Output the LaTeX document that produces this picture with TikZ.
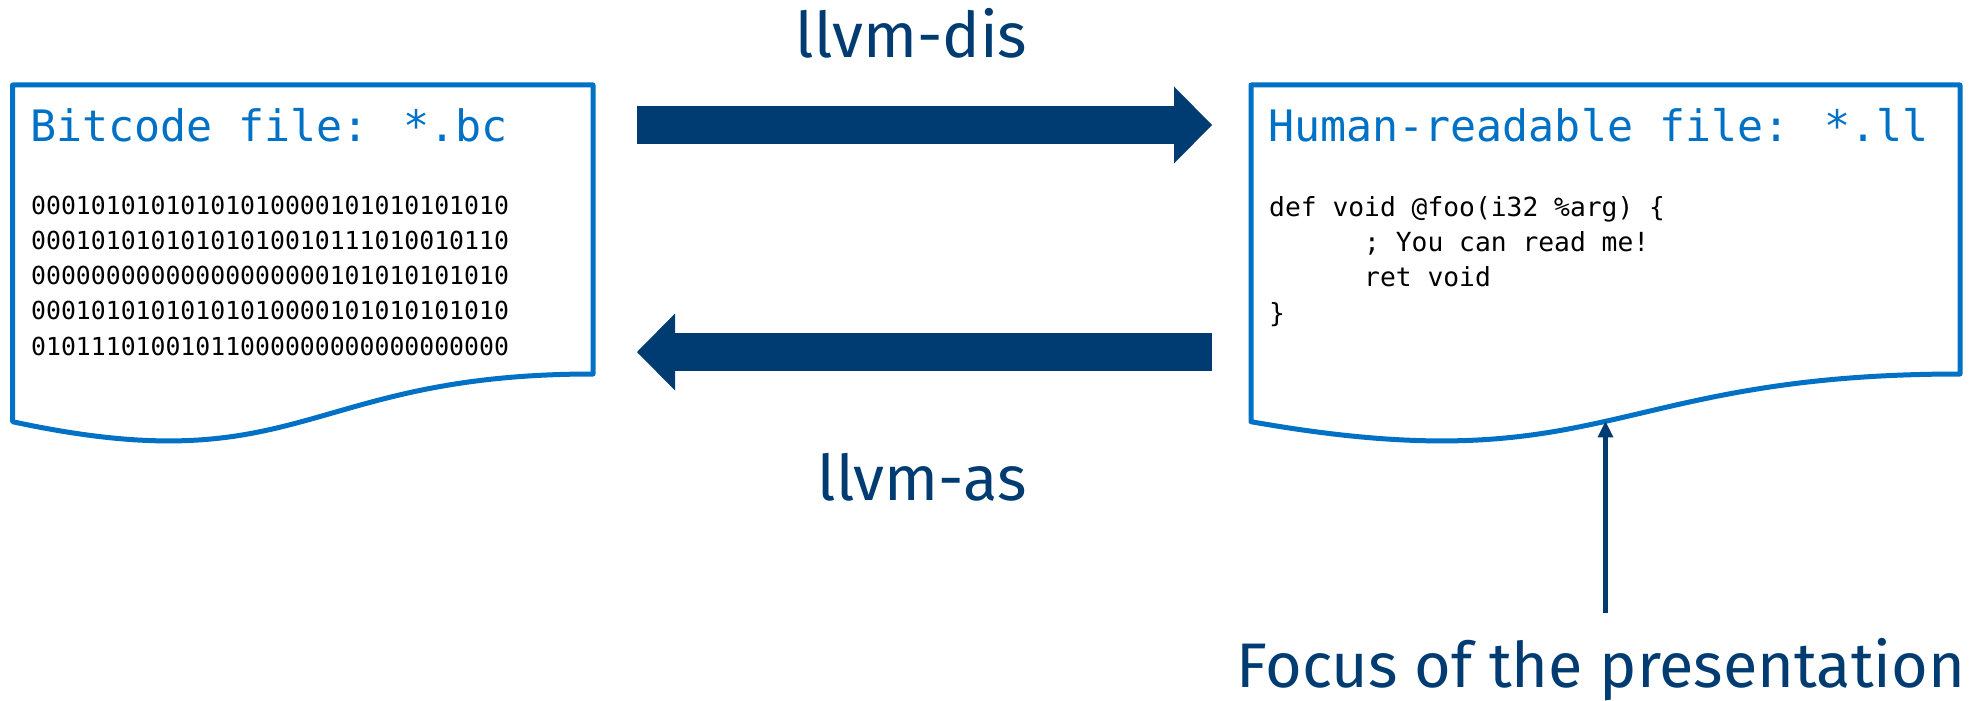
\documentclass[tikz,border=0pt]{standalone}
\usepackage{fontspec}
\setmainfont{Fira Sans}
\newfontfamily\codefont{DejaVu Sans Mono}
\usetikzlibrary{arrows.meta}
\definecolor{docblue}{HTML}{0071C5}
\definecolor{toolnavy}{HTML}{003C71}
\tikzset{
  docframe/.style={draw=docblue, line width=5pt, line join=round},
  doctitle/.style={anchor=base west, inner sep=0pt, text=docblue,
    font=\codefont\fontsize{43.3}{50}\selectfont},
  % multi-line nodes: the base anchor sits on the last line
  doclines/.style={anchor=base west, inner sep=0pt, align=left,
    font=\codefont\fontsize{24.8}{35.25}\selectfont},
  toolarrow/.style={draw=toolnavy, line width=38pt,
    -{Triangle[length=38pt,width=77pt,line width=0pt]}},
  toollabel/.style={anchor=base, inner sep=0pt, text=toolnavy,
    font=\fontsize{63}{72}\selectfont},
  pointer/.style={draw=toolnavy, line width=4.5pt,
    -{Triangle[length=16pt,width=16pt,line width=0pt]}},
}
\begin{document}
\begin{tikzpicture}[x=1pt,y=-1pt]
\useasboundingbox (0,0) rectangle (1979,701);

% bitcode file: flat top, wavy bottom edge
\draw[docframe] (12.6,85) -- (593,85) -- (593,374)
  .. controls (302.8,374) and (302.8,484.3) .. (12.6,421.7) -- cycle;
% textual IR file
\draw[docframe] (1251,85) -- (1960,85) -- (1960,374)
  .. controls (1605.5,374) and (1605.5,484.3) .. (1251,421.7) -- cycle;
\coordinate (llwave) at (1605.5,421.4);

\node[doctitle] (bctitle) at (30,141) {Bitcode file: *.bc};
\node[doclines] (bcbits) at (31,355) {%
00010101010101010000101010101010\\
00010101010101010010111010010110\\
00000000000000000000101010101010\\
00010101010101010000101010101010\\
01011101001011000000000000000000};

\node[doctitle] (lltitle) at (1268,141) {Human-readable file: *.ll};
\node[doclines, font=\codefont\fontsize{26.3}{35.3}\selectfont] (llcode) at (1269,322) {%
def void @foo(i32 \%arg) \{\\
\hspace*{3.612em}; You can read me!\\
\hspace*{3.612em}ret void\\
\}};

% conversion tools
\coordinate (disfrom) at (637,125);
\coordinate (disto) at (1212,125);
\coordinate (asfrom) at (1212,352);
\coordinate (asto) at (637,352);
\draw[toolarrow] (disfrom) -- (disto);
\draw[toolarrow] (asfrom) -- (asto);
\node[toollabel] (dis) at (911.5,58) {llvm-dis};
\node[toollabel] (as) at (922,500) {llvm-as};

% callout
\node[toollabel] (focus) at (1601,687) {Focus of the presentation};
\coordinate (focustop) at ([yshift=25pt]focus.north);
\draw[pointer] (llwave |- focustop) -- (llwave);
\end{tikzpicture}
\end{document}
